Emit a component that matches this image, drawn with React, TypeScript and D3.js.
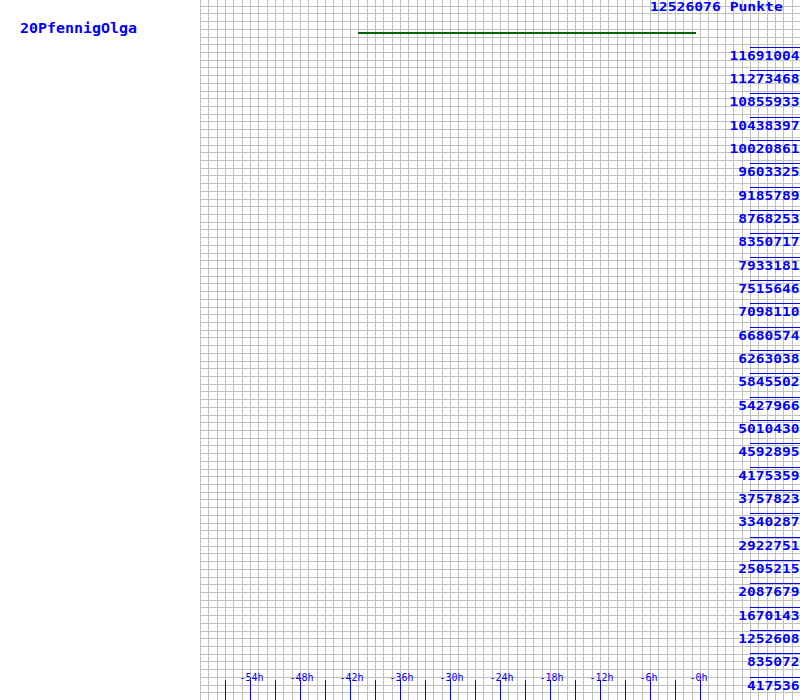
import React from "react";
import * as d3 from "d3";

const playerName = "20PfennigOlga";
const headerLabel = "12526076 Punkte";
const yMax = 12526076;
const yTickLabels = [
  "417536", "835072", "1252608", "1670143", "2087679", "2505215", "2922751",
  "3340287", "3757823", "4175359", "4592895", "5010430", "5427966", "5845502",
  "6263038", "6680574", "7098110", "7515646", "7933181", "8350717", "8768253",
  "9185789", "9603325", "10020861", "10438397", "10855933", "11273468", "11691004",
];
const xTickHours = [-54, -48, -42, -36, -30, -24, -18, -12, -6, 0];
const xMinorHours = [-57, -51, -45, -39, -33, -27, -21, -15, -9, -3];
const lineHours = [-41, -36, -30, -24, -18, -12, -6, -0.5];
const lineValues = [11929596, 11929596, 11929596, 11929596, 11929596, 11929596, 11929596, 11929596];

const W = 800;
const H = 700;
const plotLeft = 200;

export default function App() {
  const x = d3.scaleLinear().domain([-60, 12]).range([plotLeft, W]);
  const y = d3.scaleLinear().domain([0, yMax]).range([H, 0]);

  const vGrid = d3.range(0, 73).map((i) => Math.round(x(-60 + i)));
  const hGrid = d3.range(0, 91).map((i) => Math.round(H - (i * 54) / 7));

  const line = d3
    .line<number>()
    .x((_, i) => x(lineHours[i]))
    .y((d) => y(d));

  const blue = "#0000ff";

  return (
    <div style={{ position: "absolute", left: 0, top: 0 }}>
      <svg width={W} height={H} style={{ display: "block", background: "#fff" }}>
        <g stroke="#c0c0c0" strokeWidth={1} shapeRendering="crispEdges">
          {vGrid.map((gx, i) => (
            <line key={"v" + i} x1={gx + 0.5} x2={gx + 0.5} y1={0} y2={H} />
          ))}
          {hGrid.map((gy, i) => (
            <line key={"h" + i} x1={plotLeft} x2={W} y1={gy + 0.5} y2={gy + 0.5} />
          ))}
        </g>

        <path
          d={line(lineValues) || ""}
          fill="none"
          stroke="#006400"
          strokeWidth={2}
          shapeRendering="crispEdges"
        />

        <text
          x={20}
          y={33}
          fill={blue}
          fontFamily="DejaVu Sans Mono"
          fontWeight="bold"
          fontSize={14}
          textLength={playerName.length * 9}
          lengthAdjust="spacingAndGlyphs"
        >
          {playerName}
        </text>

        <text
          x={650}
          y={10.5}
          fill={blue}
          fontFamily="DejaVu Sans Mono"
          fontWeight="bold"
          fontSize={12}
          textLength={headerLabel.length * 8.85}
          lengthAdjust="spacingAndGlyphs"
        >
          {headerLabel}
        </text>

        {yTickLabels.map((lbl, i) => {
          const v = (yMax * (i + 1)) / 30;
          const ly = Math.round(y(v));
          return (
            <g key={"yl" + i}>
              <line
                x1={750}
                x2={W}
                y1={ly + 0.5}
                y2={ly + 0.5}
                stroke={blue}
                strokeWidth={1}
                shapeRendering="crispEdges"
              />
              <text
                x={W - 0.5 - lbl.length * 8.75}
                y={ly + 12.5}
                fill={blue}
                fontFamily="DejaVu Sans Mono"
                fontWeight="bold"
                fontSize={12.5}
                textLength={lbl.length * 8.75}
                lengthAdjust="spacingAndGlyphs"
              >
                {lbl}
              </text>
            </g>
          );
        })}

        {xMinorHours.concat(xTickHours).map((h, i) => {
          const tx = Math.round(x(h));
          return (
            <line
              key={"xt" + i}
              x1={tx + 0.5}
              x2={tx + 0.5}
              y1={680}
              y2={H}
              stroke={blue}
              strokeWidth={1}
              shapeRendering="crispEdges"
            />
          );
        })}
        {xTickHours.map((h, i) => (
          <text
            key={"xl" + i}
            x={x(h) - 10.5}
            y={681}
            fill={blue}
            fontFamily="DejaVu Sans Mono"
            fontSize={10}
          >
            {"-" + Math.abs(h) + "h"}
          </text>
        ))}
      </svg>
    </div>
  );
}
